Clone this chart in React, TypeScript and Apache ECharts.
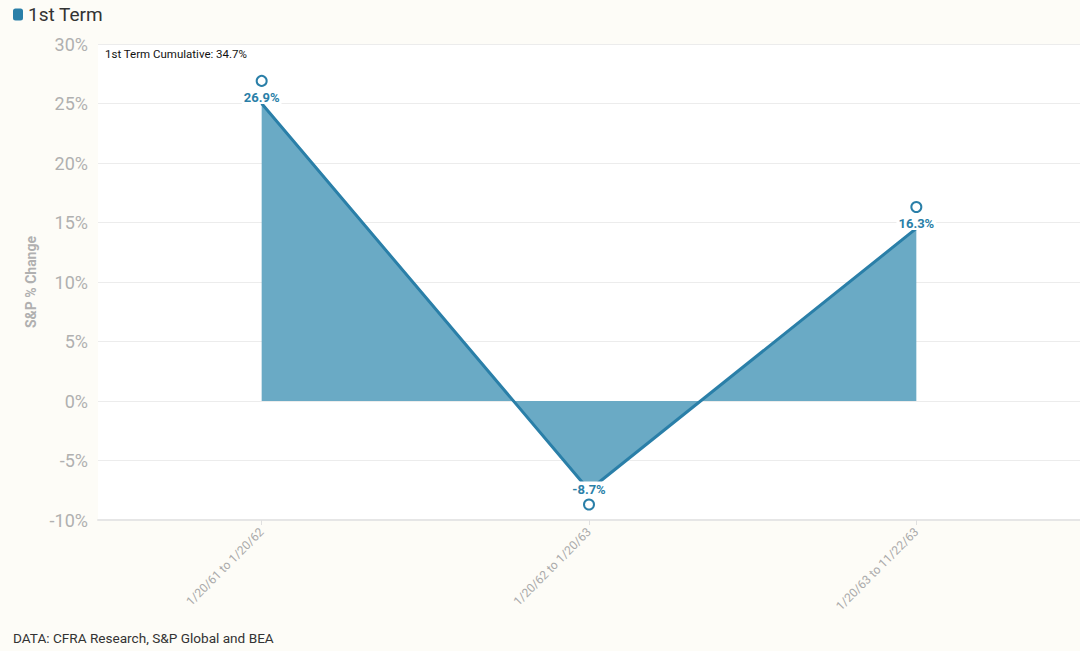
import React, { useEffect, useRef } from "react";
import * as echarts from "echarts";

const categories = ["1/20/61 to 1/20/62", "1/20/62 to 1/20/63", "1/20/63 to 11/22/63"];
// values as labelled at the markers
const pointValues = [26.9, -8.7, 16.3];
// values where the drawn line / filled area actually sits in the picture
const areaValues = [25.0, -7.5, 14.5];
const yTicks = { min: -10, max: 30, interval: 5 };
const seriesName = "1st Term";
const annotation = "1st Term Cumulative: 34.7%";
const footer = "DATA: CFRA Research, S&P Global and BEA";

const BLUE = "#2a7fa8";

export default function App() {
  const ref = useRef<HTMLDivElement>(null);
  useEffect(() => {
    if (!ref.current) return;
    const chart = echarts.init(ref.current, undefined, { renderer: "svg" });
    chart.setOption({
      animation: false,
      backgroundColor: "#fdfcf7",
      textStyle: { fontFamily: "Roboto" },
      legend: {
        data: [seriesName],
        left: 8,
        top: 0,
        icon: "roundRect",
        itemWidth: 10,
        itemHeight: 12,
        itemGap: 6,
        textStyle: { fontSize: 19, color: "#333", fontFamily: "Roboto" },
      },
      grid: {
        left: 98,
        right: -2,
        top: 44,
        bottom: 131,
        show: true,
        backgroundColor: "#ffffff",
        borderWidth: 0,
      },
      xAxis: {
        type: "category",
        data: categories,
        boundaryGap: true,
        axisLine: { show: true, onZero: false, lineStyle: { color: "#e6e6e6", width: 2 } },
        axisTick: { show: true, alignWithLabel: true, length: 5, lineStyle: { color: "#e0e0e0" } },
        axisLabel: { rotate: 45, color: "#aaaaaa", fontSize: 12, margin: 10 },
        splitLine: { show: false },
      },
      yAxis: {
        type: "value",
        min: yTicks.min,
        max: yTicks.max,
        interval: yTicks.interval,
        name: "S&P % Change",
        nameLocation: "middle",
        nameGap: 60,
        nameTextStyle: { fontSize: 14, fontWeight: "bold", color: "#b0b0b0" },
        axisLine: { show: false },
        axisTick: { show: false },
        axisLabel: { formatter: "{value}%", fontSize: 18, color: "#b0b0b0", margin: 10 },
        splitLine: { lineStyle: { color: "#ececec", width: 1 } },
      },
      series: [
        {
          name: seriesName,
          type: "line",
          data: areaValues,
          symbol: "none",
          itemStyle: { color: BLUE },
          lineStyle: { color: BLUE, width: 3 },
          areaStyle: { color: "#6aaac5", opacity: 1, origin: 0 },
          z: 2,
        },
        {
          name: "points",
          type: "line",
          data: pointValues.map((v) => ({
            value: v,
            label: { position: v < 0 ? "top" : "bottom" },
          })),
          symbol: "emptyCircle",
          symbolSize: 10,
          itemStyle: { color: BLUE, borderColor: BLUE, borderWidth: 2.5 },
          lineStyle: { opacity: 0 },
          label: {
            show: true,
            formatter: (p: any) => `${p.value}%`,
            color: BLUE,
            fontWeight: "bold",
            fontSize: 13,
            backgroundColor: "#ffffff",
            padding: [1, 2, 0, 2],
            distance: 3,
          },
          z: 5,
        },
      ],
      graphic: [
        {
          type: "text",
          left: 105,
          top: 48,
          style: { text: annotation, fontSize: 11.5, fill: "#111", fontFamily: "Roboto" },
          z: 10,
        },
        {
          type: "text",
          left: 13,
          top: 631,
          style: { text: footer, fontSize: 13.6, fill: "#333", fontFamily: "Roboto" },
          z: 10,
        },
      ],
    });
    return () => chart.dispose();
  }, []);
  return (
    <div
      ref={ref}
      style={{ position: "fixed", left: 0, top: 0, width: 1080, height: 651 }}
    />
  );
}
